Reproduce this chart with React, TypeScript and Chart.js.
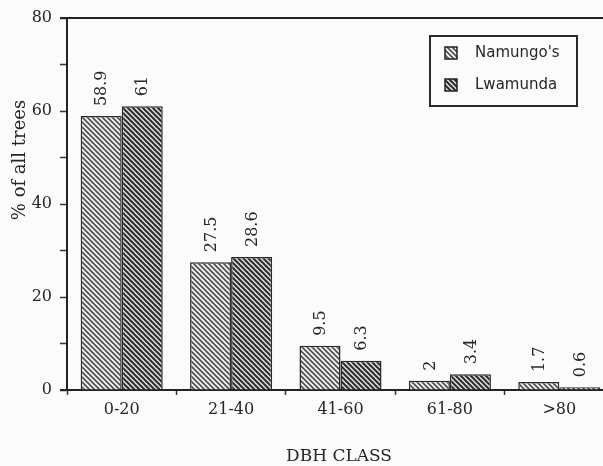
import React, { useEffect, useRef } from "react";
import { Chart, registerables } from "chart.js";

Chart.register(...registerables);

const categories = ["0-20", "21-40", "41-60", "61-80", ">80"];
const namungo = [58.9, 27.5, 9.5, 2, 1.7];
const lwamunda = [61, 28.6, 6.3, 3.4, 0.6];
const namungoLabels = ["58.9", "27.5", "9.5", "2", "1.7"];
const lwamundaLabels = ["61", "28.6", "6.3", "3.4", "0.6"];
const seriesNames = ["Namungo's", "Lwamunda"];
const yTitle = "% of all trees";
const xTitle = "DBH CLASS";

const FONT = "'DejaVu Serif', 'Liberation Serif', serif";
const LFONT = "'DejaVu Sans', 'Liberation Sans', sans-serif";
const INK = "#262626";

function makePattern(bg: string, fg: string, lw: number): CanvasPattern | string {
  const s = 5;
  const c = document.createElement("canvas");
  c.width = s;
  c.height = s;
  const g = c.getContext("2d");
  if (!g) return bg;
  g.fillStyle = bg;
  g.fillRect(0, 0, s, s);
  g.strokeStyle = fg;
  g.lineWidth = lw;
  for (let k = -1; k <= 1; k++) {
    g.beginPath();
    g.moveTo(-1, k * s - 1);
    g.lineTo(s + 1, s + k * s + 1);
    g.stroke();
  }
  const p = g.createPattern(c, "repeat");
  return p || bg;
}

export default function App() {
  const ref = useRef<HTMLCanvasElement | null>(null);

  useEffect(() => {
    if (!ref.current) return;
    const pA = makePattern("#f3f3f3", "#505050", 1.7);
    const pB = makePattern("#e0e0e0", "#2c2c2c", 2);
    const valueLabels = [namungoLabels, lwamundaLabels];

    const decor = {
      id: "decor",
      afterDatasetsDraw(chart: any) {
        const ctx = chart.ctx;
        const ca = chart.chartArea;
        ctx.save();
        ctx.strokeStyle = "#222";
        ctx.lineWidth = 2;
        ctx.beginPath();
        ctx.moveTo(60, ca.top);
        ctx.lineTo(ca.right, ca.top);
        ctx.stroke();
        ctx.beginPath();
        ctx.moveTo(60, ca.bottom);
        ctx.lineTo(ca.left, ca.bottom);
        ctx.stroke();

        // value labels
        ctx.fillStyle = INK;
        ctx.font = `16px ${FONT}`;
        ctx.textAlign = "left";
        ctx.textBaseline = "middle";
        chart.data.datasets.forEach((ds: any, di: number) => {
          const meta = chart.getDatasetMeta(di);
          meta.data.forEach((el: any, i: number) => {
            ctx.save();
            ctx.translate(el.x + 1, el.y - 10);
            ctx.rotate(-Math.PI / 2);
            ctx.fillText(valueLabels[di][i], 0, 0);
            ctx.restore();
          });
        });

        // y title
        ctx.save();
        ctx.font = `18px ${FONT}`;
        ctx.textAlign = "center";
        ctx.textBaseline = "middle";
        ctx.translate(20, 160);
        ctx.rotate(-Math.PI / 2);
        ctx.fillText(yTitle, 0, 0);
        ctx.restore();

        // x title
        ctx.save();
        ctx.font = `17px ${FONT}`;
        ctx.textAlign = "center";
        ctx.textBaseline = "middle";
        ctx.fillText(xTitle, 339, 457);
        ctx.restore();

        // legend
        const lx = 430, ly = 36, lw = 147, lh = 70;
        ctx.fillStyle = "#fbfbfb";
        ctx.fillRect(lx, ly, lw, lh);
        ctx.strokeStyle = "#2a2a2a";
        ctx.lineWidth = 2;
        ctx.strokeRect(lx, ly, lw, lh);
        const pats = [pA, pB];
        ctx.font = `15px ${LFONT}`;
        ctx.textAlign = "left";
        ctx.textBaseline = "middle";
        chart.data.datasets.forEach((ds: any, di: number) => {
          const cy = ly + 17 + di * 32;
          ctx.fillStyle = pats[di] as any;
          ctx.fillRect(445, cy - 6, 12, 12);
          ctx.strokeStyle = "#222";
          ctx.lineWidth = 1.5;
          ctx.strokeRect(445, cy - 6, 12, 12);
          ctx.fillStyle = INK;
          ctx.fillText(ds.label, 475, cy);
        });
        ctx.restore();
      },
    };

    const chart = new Chart(ref.current, {
      type: "bar",
      data: {
        labels: categories,
        datasets: [
          {
            label: seriesNames[0],
            data: namungo,
            backgroundColor: pA as any,
            borderColor: "#2a2a2a",
            borderWidth: 1.5,
          },
          {
            label: seriesNames[1],
            data: lwamunda,
            backgroundColor: pB as any,
            borderColor: "#2a2a2a",
            borderWidth: 1.5,
          },
        ],
      },
      options: {
        responsive: false,
        animation: false,
        maintainAspectRatio: false,
        layout: { padding: { top: 18, right: 2, left: 0, bottom: 0 } },
        datasets: {
          bar: { categoryPercentage: 0.75, barPercentage: 1 },
        },
        plugins: {
          legend: { display: false },
          tooltip: { enabled: false },
        },
        scales: {
          x: {
            afterFit: (s: any) => {
              s.height = 76;
            },
            grid: {
              drawOnChartArea: false,
              drawTicks: true,
              tickLength: 5,
              tickColor: "#333",
              tickWidth: 1.5,
              offset: true,
            },
            border: { display: true, color: "#222", width: 2 },
            ticks: {
              color: INK,
              font: { family: FONT, size: 16 },
              padding: 5,
              maxRotation: 0,
            },
          },
          y: {
            min: 0,
            max: 80,
            afterFit: (s: any) => {
              s.width = 67;
            },
            grid: {
              drawOnChartArea: false,
              drawTicks: true,
              tickLength: 7,
              tickColor: "#333",
              tickWidth: 1.5,
            },
            border: { display: true, color: "#222", width: 2 },
            ticks: {
              stepSize: 10,
              color: INK,
              font: { family: FONT, size: 16 },
              padding: 8,
              callback: (v: any) => (Number(v) % 20 === 0 ? String(v) : ""),
            },
          },
        },
      },
      plugins: [decor],
    });
    return () => chart.destroy();
  }, []);

  return (
    <div style={{ position: "fixed", inset: 0, overflow: "hidden", background: "#fbfbfb" }}>
      <canvas ref={ref} width={616} height={466} style={{ display: "block", width: 616, height: 466 }} />
    </div>
  );
}
